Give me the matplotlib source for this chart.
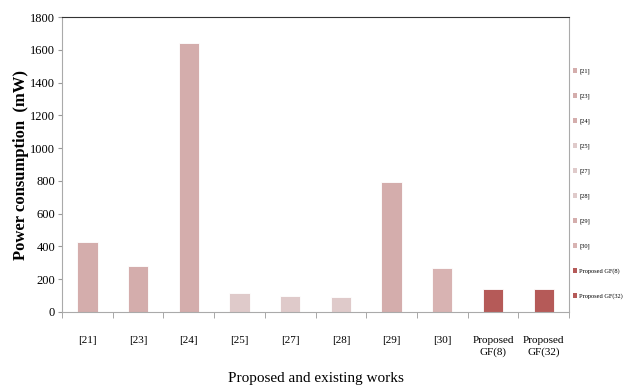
import numpy as np
import matplotlib.pyplot as plt
from matplotlib.patches import Patch

plt.rcParams['font.family'] = ['Liberation Serif', 'DejaVu Serif']

works = ["[21]", "[23]", "[24]", "[25]", "[27]", "[28]", "[29]", "[30]",
         "Proposed\nGF(8)", "Proposed\nGF(32)"]
legend_labels = ["[21]", "[23]", "[24]", "[25]", "[27]", "[28]", "[29]", "[30]",
                 "Proposed GF(8)", "Proposed GF(32)"]
power_mw = [430, 282, 1640, 114, 100, 94, 795, 268, 138, 138]
bar_colors = ["#d4adac", "#d4adac", "#d4adac", "#dfcaca", "#dfcaca", "#dfcaca",
              "#d4adac", "#d8b3b2", "#b55a58", "#b55a58"]

fig = plt.figure(figsize=(6.24, 3.88), dpi=100)
ax = fig.add_axes([0.0994, 0.196, 0.8126, 0.760])

x = np.arange(len(works))
ax.bar(x, power_mw, width=0.4, color=bar_colors, edgecolor="white", linewidth=0.6)

ax.set_xlim(-0.5, len(works) - 0.5)
ax.set_ylim(0, 1800)
ax.set_yticks(np.arange(0, 1801, 200))
ax.tick_params(axis="y", labelsize=9, length=3, color="#999999", pad=2)
ax.set_xticks(x)
ax.set_xticklabels(works, fontsize=8, linespacing=1.35)
ax.set_xticks(np.arange(-0.5, len(works), 1), minor=True)
ax.tick_params(axis="x", which="major", length=0, pad=17)
ax.tick_params(axis="x", which="minor", length=4, color="#999999")

for side in ["left", "right", "bottom"]:
    ax.spines[side].set_color("#aaaaaa")
ax.spines["top"].set_color("#333333")
ax.spines["top"].set_linewidth(0.8)

ax.set_ylabel("Power consumption  (mW)", fontsize=12, fontweight="bold", labelpad=1)
ax.set_xlabel("Proposed and existing works", fontsize=11, labelpad=11)

handles = [Patch(facecolor=c, edgecolor="none") for c in bar_colors]
fig.legend(handles, legend_labels, loc="upper left", bbox_to_anchor=(0.918, 0.826),
           frameon=False, fontsize=4.6, handlelength=0.7, handleheight=0.9,
           handletextpad=0.3, labelspacing=2.93, borderaxespad=0, borderpad=0)

fig.savefig("out.png", dpi=100)
